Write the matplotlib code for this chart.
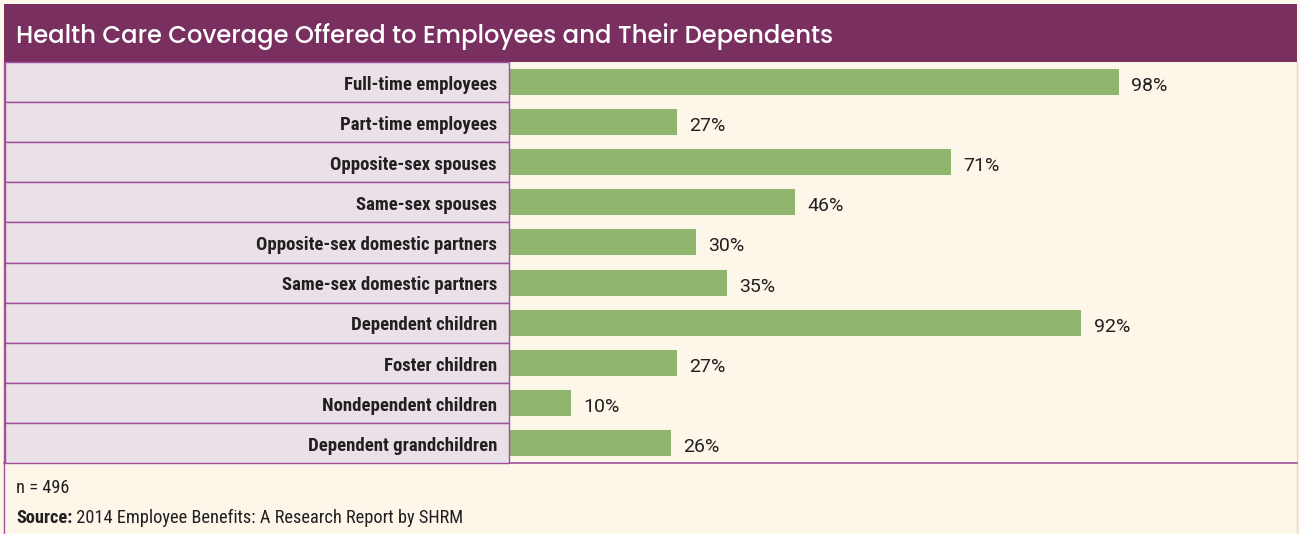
import matplotlib.pyplot as plt
from matplotlib.patches import Rectangle
from matplotlib.transforms import blended_transform_factory

categories = [
    "Full-time employees",
    "Part-time employees",
    "Opposite-sex spouses",
    "Same-sex spouses",
    "Opposite-sex domestic partners",
    "Same-sex domestic partners",
    "Dependent children",
    "Foster children",
    "Nondependent children",
    "Dependent grandchildren",
]
values = [98, 27, 71, 46, 30, 35, 92, 27, 10, 26]

title = "Health Care Coverage Offered to Employees and Their Dependents"
note = "n = 496"
source_label = "Source:"
source_text = " 2014 Employee Benefits: A Research Report by SHRM"

cream = "#fdf7ea"
purple = "#7a2f61"
line_purple = "#a0509a"
label_fill = "#e9e0e8"
green = "#8fb56f"
ink = "#231f20"
cond = "Roboto Condensed"

W, H = 1300, 534
fig = plt.figure(figsize=(W / 100, H / 100), dpi=100)
fig.patch.set_facecolor(cream)

# pixel-space axes for the frame
bg = fig.add_axes([0, 0, 1, 1])
bg.set_xlim(0, W)
bg.set_ylim(H, 0)
bg.axis("off")

left, right, top = 4, 1297, 4
title_bottom, rows_bottom = 62, 463
col_edge = 508

bg.add_patch(Rectangle((left, top), right - left, title_bottom - top, color=purple, lw=0))
bg.plot([left, left], [title_bottom, H], color=line_purple, lw=1)
bg.plot([right, right], [title_bottom, H], color="#e8d6c8", lw=1)
bg.plot([left, right], [rows_bottom, rows_bottom], color=line_purple, lw=1.2)
bg.text(16, 36, title, color="white", fontsize=17.5, family=["Poppins", "Open Sans"],
        fontweight="medium", va="center", ha="left")
bg.text(16, 488, note, color=ink, fontsize=13.2, family=cond, va="center")
t = bg.text(16, 518, source_label, color=ink, fontsize=13.2, family=cond,
            fontweight="bold", va="center")
fig.canvas.draw()
bb = t.get_window_extent()
bg.text(16 + bb.width, 518, source_text, color=ink, fontsize=13.2, family=cond, va="center")

# bar axes
ax = fig.add_axes([(col_edge + 1) / W, 1 - rows_bottom / H,
                   (right - col_edge - 1) / W, (rows_bottom - title_bottom) / H])
ax.set_facecolor("none")
n = len(categories)
ax.set_xlim(0, (right - col_edge - 1) / 6.22)
ax.set_ylim(n - 0.5, -0.5)
ax.axis("off")

ypos = list(range(n))
ax.barh(ypos, values, height=0.65, color=green, lw=0)
for y, v in zip(ypos, values):
    ax.text(v + 2, y + 0.1, f"{v}%", fontsize=14, family="Roboto",
            color=ink, va="center", ha="left")

# label column
tr = blended_transform_factory(ax.transAxes, ax.transData)
col_w = (col_edge - left) / (right - col_edge - 1)
for y, name in zip(ypos, categories):
    ax.add_patch(Rectangle((-col_w, y - 0.5), col_w, 1, transform=tr,
                           facecolor=label_fill, edgecolor=line_purple, lw=1, clip_on=False))
    ax.text(-12 / (right - col_edge - 1), y + 0.07, name, transform=tr, ha="right", va="center",
            fontsize=13.5, family=cond, fontweight="bold", color=ink)

fig.savefig("out.png", dpi=100, facecolor=cream)
